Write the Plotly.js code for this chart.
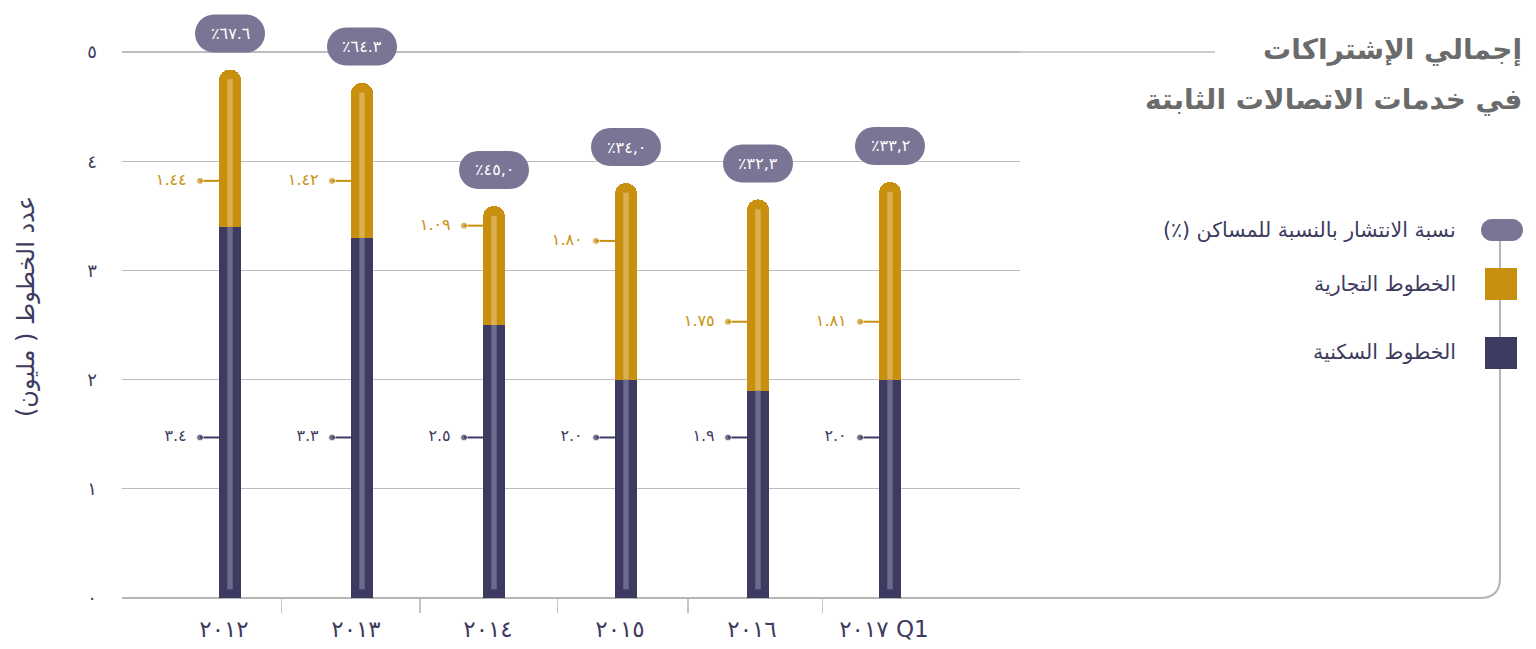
<!DOCTYPE html>
<html><head><meta charset="utf-8">
<script src="https://cdn.plot.ly/plotly-3.0.1.min.js"></script>
<style>html,body{margin:0;padding:0;background:#fff}#chart{width:1536px;height:649px}</style>
</head><body><div id="chart"></div>
<script>
// ---- data ----
const categories = ['٢٠١٢','٢٠١٣','٢٠١٤','٢٠١٥','٢٠١٦','٢٠١٧ Q1'];
const residential = [3.4, 3.3, 2.5, 2.0, 1.9, 2.0];
const business = [1.44, 1.42, 1.09, 1.80, 1.75, 1.81];
const residentialLabels = ['٣.٤','٣.٣','٢.٥','٢.٠','١.٩','٢.٠'];
const businessLabels = ['١.٤٤','١.٤٢','١.٠٩','١.٨٠','١.٧٥','١.٨١'];
const penetration = [67.6, 64.3, 45.0, 34.0, 32.3, 33.2];
const penetrationLabels = ['٪٦٧.٦','٪٦٤.٣','٪٤٥,٠','٪٣٤,٠','٪٣٢,٣','٪٣٣,٢'];
const yTickVals = [0,1,2,3,4,5];
const yTickLabels = ['٠','١','٢','٣','٤','٥'];
const seriesNames = ['نسبة الانتشار بالنسبة للمساكن (٪)\u200F','الخطوط التجارية','الخطوط السكنية'];
const titleLines = ['إجمالي الإشتراكات','في خدمات الاتصالات الثابتة'];
const yTitle = '\u200Fعدد الخطوط ( مليون)\u200F';

// ---- layout constants (label placement, not data) ----
const resLabelLevel = 1.47;
const busLabelLevel = [3.82, 3.82, 3.41, 3.27, 2.53, 2.53];
const sepTicks = [0.39, 1.44, 2.48, 3.47, 4.49];

const DARK = '#3d3b62', DARK_HI = '#6d6a8c';
const GOLD = '#c8900e', GOLD_HI = '#dab050';
const PILL = '#7a7595', TXT = '#3d3b5e';

const L = 122, R = 1020, T = 3, B = 598;
const W = R - L, H = B - T;
const PX_PER_UNIT = 109.2;
const yMax = H / PX_PER_UNIT;
const px = v => (v - L) / W;
const py = v => (B - v) / H;

const idx = categories.map((_, i) => i);
const totals = residential.map((v, i) => v + business[i]);
const barW = 0.167;

function pillPath(w, h, dy) {
  const r = h / 2, k = 0.5523 * r;
  const x0 = -w/2, x1 = w/2, y0 = dy - h/2, y1 = dy + h/2;
  return `M ${x0+r} ${y0} L ${x1-r} ${y0} C ${x1-r+k} ${y0} ${x1} ${dy-k} ${x1} ${dy} ` +
         `C ${x1} ${dy+k} ${x1-r+k} ${y1} ${x1-r} ${y1} L ${x0+r} ${y1} ` +
         `C ${x0+r-k} ${y1} ${x0} ${dy+k} ${x0} ${dy} C ${x0} ${dy-k} ${x0+r-k} ${y0} ${x0+r} ${y0} Z`;
}

function segs(fx, fy) {
  const xs = [], ys = [];
  idx.forEach(i => { xs.push(...fx(i), null); ys.push(...fy(i), null); });
  return {xs, ys};
}

const traces = [];
traces.push({type:'bar', x: idx, y: residential, width: barW, marker:{color: DARK, line:{width:0}}, name: seriesNames[2], hoverinfo:'skip'});
traces.push({type:'bar', x: idx, y: business, width: barW, marker:{color: GOLD, line:{width:0}}, name: seriesNames[1], hoverinfo:'skip'});

const s1 = segs(i => [i, i], i => [0.08, residential[i]]);
traces.push({type:'scatter', mode:'lines', x: s1.xs, y: s1.ys, line:{color: DARK_HI, width: 5.5}, hoverinfo:'skip', cliponaxis:false});
const s2 = segs(i => [i, i], i => [residential[i], totals[i] - 0.09]);
traces.push({type:'scatter', mode:'lines', x: s2.xs, y: s2.ys, line:{color: GOLD_HI, width: 5.5}, hoverinfo:'skip', cliponaxis:false});

function leader(levels, labels, color) {
  const xs = [], ys = [], txt = [], sz = [];
  idx.forEach(i => {
    const lv = Array.isArray(levels) ? levels[i] : levels;
    xs.push(i - 0.227, i - barW/2, null); ys.push(lv, lv, null);
    txt.push(labels[i] + '\u2002', '', ''); sz.push(7, 0, 0);
  });
  return {type:'scatter', mode:'lines+markers+text', x: xs, y: ys, text: txt, textposition:'middle left',
    textfont:{color: color, size: 16, family:'DejaVu Sans'}, marker:{color: color, size: sz},
    line:{color: color, width: 2}, hoverinfo:'skip', cliponaxis:false};
}
traces.push(leader(resLabelLevel, residentialLabels, DARK));
traces.push(leader(busLabelLevel, businessLabels, GOLD));

const shapes = [];
// baseline connecting to legend
shapes.push({type:'path', xref:'paper', yref:'paper', layer:'below',
  path:`M ${px(122)} ${py(598)} L ${px(1480)} ${py(598)} Q ${px(1500)} ${py(598)} ${px(1500)} ${py(578)} L ${px(1500)} ${py(230)}`,
  line:{color:'#b5b5b5', width:2}});
// top gridline extension
shapes.push({type:'line', xref:'paper', yref:'y', x0:1, x1:px(1215), y0:5, y1:5, layer:'below', line:{color:'#bdbdbd', width:1.5}});
// percent pills
idx.forEach(i => {
  shapes.push({type:'path', xref:'x', yref:'y', xsizemode:'pixel', ysizemode:'pixel', xanchor:i, yanchor: totals[i],
    path: pillPath(70, 38, 36), fillcolor: PILL, line:{width:0}});
});
// legend symbols
shapes.push({type:'path', xref:'paper', yref:'paper', xsizemode:'pixel', ysizemode:'pixel', xanchor:px(1502), yanchor:py(230),
  path: pillPath(42, 22, 0), fillcolor: PILL, line:{width:0}});
shapes.push({type:'rect', xref:'paper', yref:'paper', xsizemode:'pixel', ysizemode:'pixel', xanchor:px(1501), yanchor:py(284),
  x0:-16, x1:16, y0:-16, y1:16, fillcolor: GOLD, line:{width:0}});
shapes.push({type:'rect', xref:'paper', yref:'paper', xsizemode:'pixel', ysizemode:'pixel', xanchor:px(1501), yanchor:py(353),
  x0:-16, x1:16, y0:-16, y1:16, fillcolor: DARK, line:{width:0}});

const annotations = [];
idx.forEach(i => {
  annotations.push({x:i, y: totals[i], xref:'x', yref:'y', yshift:36, text: penetrationLabels[i], showarrow:false,
    font:{color:'#ffffff', size:16, family:'DejaVu Sans'}});
});
annotations.push({xref:'paper', yref:'paper', x:px(1524), y:py(50), xanchor:'right', yanchor:'middle', showarrow:false,
  text:'<b>'+titleLines[0]+'</b>', font:{size:28, color:'#6b6b6b', family:'DejaVu Sans'}});
annotations.push({xref:'paper', yref:'paper', x:px(1524), y:py(100), xanchor:'right', yanchor:'middle', showarrow:false,
  text:'<b>'+titleLines[1]+'</b>', font:{size:28, color:'#6b6b6b', family:'DejaVu Sans'}});
[230, 284, 352].forEach((yy, k) => {
  annotations.push({xref:'paper', yref:'paper', x:px(1458), y:py(yy), xanchor:'right', yanchor:'middle', showarrow:false,
    text: seriesNames[k], font:{size:20.5, color: TXT, family:'DejaVu Sans'}});
});
annotations.push({xref:'paper', yref:'paper', x:px(26), y:py(307), xanchor:'center', yanchor:'middle', showarrow:false,
  textangle:-90, text: yTitle, font:{size:24, color: TXT, family:'DejaVu Sans'}});

const layout = {
  width:1536, height:649,
  margin:{l:L, r:1536-R, t:T, b:649-B, pad:0},
  paper_bgcolor:'#ffffff', plot_bgcolor:'#ffffff',
  font:{family:'DejaVu Sans', color: TXT},
  barmode:'stack', barcornerradius: 11,
  showlegend:false, hovermode:false,
  xaxis:{range:[(L-230)/132, (R-230)/132], tickmode:'array', tickvals: idx, ticktext: categories,
    showgrid:false, zeroline:false, showline:false, ticks:'', ticklabelstandoff: 15, ticklabelshift:-6,
    tickfont:{size:23, color: TXT},
    minor:{tickmode:'array', tickvals: sepTicks, ticks:'outside', ticklen:14, tickwidth:1.5, tickcolor:'#c4c4c4', showgrid:false},
    fixedrange:true},
  yaxis:{range:[0, yMax], tickmode:'array', tickvals: yTickVals, ticktext: yTickLabels, showgrid:true, gridcolor:'#bdbdbd',
    gridwidth:1.2, zeroline:false, showline:false, ticks:'', ticklabelstandoff: 24, tickfont:{size:18, color: TXT}, fixedrange:true},
  shapes, annotations
};

Plotly.newPlot('chart', traces, layout, {staticPlot:true, displayModeBar:false});
</script></body></html>
